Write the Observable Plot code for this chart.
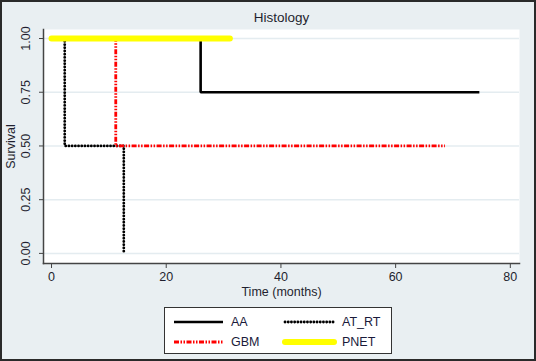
<!DOCTYPE html>
<html>
<head>
<meta charset="utf-8">
<script src="https://cdn.jsdelivr.net/npm/d3@7"></script>
<script src="https://cdn.jsdelivr.net/npm/@observablehq/plot@0.6"></script>
<style>
  body { margin: 0; font-family: "Liberation Sans", Arial, sans-serif; }
  #wrap { position: relative; width: 536px; height: 361px; background: #e9eff2; overflow: hidden; }
  #frame { position: absolute; left: 0; top: 0; width: 536px; height: 361px; box-sizing: border-box; border: 2px solid #2a2a2a; pointer-events: none; }
  #legend { position: absolute; left: 164px; top: 307px; width: 228px; height: 47px; box-sizing: border-box; border: 1.5px solid #333; background: #fff; }
  .item { position: absolute; font-size: 12.5px; color: #1a1a3a; height: 16px; line-height: 16px; }
  .item svg { position: absolute; left: 0; top: 0; }
  .item span { position: absolute; white-space: nowrap; }
</style>
</head>
<body>
<div id="wrap"><div id="frame"></div><div id="legend"></div></div>
<script>
// ---- data ----
const groups = ["AA", "AT_RT", "GBM", "PNET"];
const aaTime = [0, 26.0, 74.6];
const aaSurv = [1, 0.75, 0.75];
const atrtTime = [0, 2.3, 12.6];
const atrtSurv = [1, 0.5, 0];
const gbmTime = [0, 11.2, 68.6];
const gbmSurv = [1, 0.5, 0.5];
const pnetTime = [0, 31.1];
const pnetSurv = [1, 1];
const xTicks = [0, 20, 40, 60, 80];
const yTicks = [0, 0.25, 0.5, 0.75, 1];
const titleText = "Histology";
const xLabel = "Time (months)";
const yLabel = "Survival";

const styles = {
  AA:    {stroke: "#000000", strokeWidth: 2.6, strokeDasharray: null},
  AT_RT: {stroke: "#000000", strokeWidth: 2.8, strokeDasharray: "0.1 3.1", strokeLinecap: "round"},
  GBM:   {stroke: "#ff0000", strokeWidth: 2.8, strokeDasharray: "5 1.5 1.5 1.5 1.5 1.5"},
  PNET:  {stroke: "#ffff00", strokeWidth: 6, strokeDasharray: null, strokeLinecap: "round"}
};

const series = {
  AA: aaTime.map((t, i) => ({group: "AA", time: t, surv: aaSurv[i]})),
  AT_RT: atrtTime.map((t, i) => ({group: "AT_RT", time: t, surv: atrtSurv[i]})),
  GBM: gbmTime.map((t, i) => ({group: "GBM", time: t, surv: gbmSurv[i]})),
  PNET: pnetTime.map((t, i) => ({group: "PNET", time: t, surv: pnetSurv[i]}))
};

const textColor = "#1f1f2f";

const lineMarks = groups.map(g => Plot.line(series[g], {
  x: "time", y: "surv", curve: "step-after",
  stroke: styles[g].stroke, strokeWidth: styles[g].strokeWidth,
  strokeDasharray: styles[g].strokeDasharray,
  strokeLinecap: styles[g].strokeLinecap || "butt",
  strokeLinejoin: "miter"
}));

const chart = Plot.plot({
  width: 536, height: 300,
  marginLeft: 43, marginRight: 17, marginTop: 29, marginBottom: 37,
  style: {background: "transparent", fontFamily: "'Liberation Sans', Arial, sans-serif", color: textColor, overflow: "visible"},
  x: {domain: [-1.4, 81.6]},
  y: {domain: [-0.047, 1.042]},
  marks: [
    Plot.frame({fill: "white", stroke: "none"}),
    Plot.ruleY(yTicks, {stroke: "#e4ecf0", strokeWidth: 1.5}),
    Plot.axisY({ticks: yTicks, tickSize: 4, tickFormat: () => "", label: null, stroke: "#444"}),
    Plot.axisX({ticks: xTicks, tickSize: 5, tickPadding: 4, fontSize: 12.5, label: null, stroke: "#444"}),
    Plot.frame({anchor: "left", stroke: "#444", strokeWidth: 1.5}),
    Plot.frame({anchor: "bottom", stroke: "#444", strokeWidth: 1.5}),
    Plot.text(yTicks, {y: d => d, text: d => d.toFixed(2), frameAnchor: "left", textAnchor: "middle", lineAnchor: "middle", rotate: -90, dx: -18, fontSize: 12.5, fill: textColor}),
    Plot.text([yLabel], {text: d => d, frameAnchor: "left", textAnchor: "middle", lineAnchor: "middle", rotate: -90, dx: -33, fontSize: 12.5, fill: textColor}),
    Plot.text([xLabel], {text: d => d, frameAnchor: "bottom", textAnchor: "middle", lineAnchor: "middle", dy: 28, fontSize: 12.5, fill: textColor}),
    Plot.text([titleText], {text: d => d, frameAnchor: "top", textAnchor: "middle", lineAnchor: "middle", dy: -12, fontSize: 13.5, fill: textColor}),
    ...lineMarks
  ]
});
document.getElementById("wrap").insertBefore(chart, document.getElementById("frame"));

// ---- legend ----
const legend = document.getElementById("legend");
const pos = {AA: [6, 6], AT_RT: [117, 6], GBM: [6, 26], PNET: [117, 26]};
groups.forEach(g => {
  const s = styles[g];
  const div = document.createElement("div");
  div.className = "item";
  div.style.left = pos[g][0] + "px";
  div.style.top = pos[g][1] + "px";
  div.style.width = "110px";
  const svg = d3.create("svg").attr("width", 56).attr("height", 16);
  svg.append("line").attr("x1", 3).attr("x2", 52).attr("y1", 8).attr("y2", 8)
    .attr("stroke", s.stroke).attr("stroke-width", s.strokeWidth)
    .attr("stroke-dasharray", s.strokeDasharray)
    .attr("stroke-linecap", s.strokeLinecap || "butt");
  div.appendChild(svg.node());
  const span = document.createElement("span");
  span.style.left = "60px";
  span.textContent = g;
  div.appendChild(span);
  legend.appendChild(div);
});
</script>
</body>
</html>
